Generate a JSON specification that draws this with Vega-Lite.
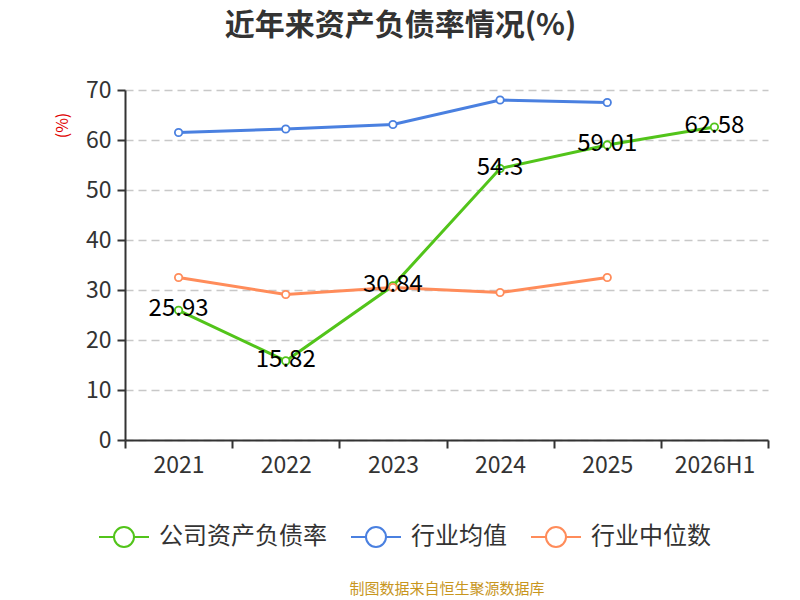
{
  "$schema": "https://vega.github.io/schema/vega-lite/v6.json",
  "width": 643,
  "height": 350,
  "autosize": {"type": "none"},
  "padding": {"left": 125, "top": 90, "right": 32, "bottom": 160},
  "background": "white",
  "title": {
    "text": "近年来资产负债率情况(%)",
    "fontSize": 30,
    "fontWeight": "bold",
    "color": "#333333",
    "font": "Noto Sans CJK SC",
    "anchor": "middle",
    "dx": -46,
    "offset": 38
  },
  "config": {
    "font": "Noto Sans CJK SC",
    "view": {"stroke": null}
  },
  "data": {
    "values": [
      {"year": "2021", "series": "公司资产负债率", "value": 25.93},
      {"year": "2022", "series": "公司资产负债率", "value": 15.82},
      {"year": "2023", "series": "公司资产负债率", "value": 30.84},
      {"year": "2024", "series": "公司资产负债率", "value": 54.3},
      {"year": "2025", "series": "公司资产负债率", "value": 59.01},
      {"year": "2026H1", "series": "公司资产负债率", "value": 62.58},
      {"year": "2021", "series": "行业均值", "value": 61.5},
      {"year": "2022", "series": "行业均值", "value": 62.2},
      {"year": "2023", "series": "行业均值", "value": 63.1},
      {"year": "2024", "series": "行业均值", "value": 68.0},
      {"year": "2025", "series": "行业均值", "value": 67.5},
      {"year": "2021", "series": "行业中位数", "value": 32.5},
      {"year": "2022", "series": "行业中位数", "value": 29.1},
      {"year": "2023", "series": "行业中位数", "value": 30.5},
      {"year": "2024", "series": "行业中位数", "value": 29.5},
      {"year": "2025", "series": "行业中位数", "value": 32.5}
    ]
  },
  "encoding": {
    "x": {
      "field": "year",
      "type": "ordinal",
      "bandPosition": 0.5,
      "scale": {"type": "band", "paddingInner": 0, "paddingOuter": 0},
      "axis": {
        "title": "制图数据来自恒生聚源数据库",
        "titleColor": "#c8961e",
        "titleFontSize": 15,
        "titleFontWeight": "normal",
        "titlePadding": 104,
        "labelAngle": 0,
        "labelFontSize": 23,
        "labelColor": "#333333",
        "labelPadding": 6,
        "tickBand": "extent",
        "tickSize": 8,
        "tickWidth": 2,
        "tickColor": "#333333",
        "domainColor": "#333333",
        "domainWidth": 2,
        "grid": false
      }
    },
    "y": {
      "field": "value",
      "type": "quantitative",
      "scale": {"domain": [0, 70]},
      "axis": {
        "values": [0, 10, 20, 30, 40, 50, 60, 70],
        "title": "(%)",
        "titleColor": "#e00000",
        "titleFontSize": 16,
        "titleFontWeight": "normal",
        "titleAngle": -90,
        "titleX": -63,
        "titleY": 35,
        "titleAlign": "center",
        "titleBaseline": "middle",
        "labelFontSize": 23,
        "labelColor": "#333333",
        "labelPadding": 6,
        "tickSize": 8,
        "tickWidth": 2,
        "tickColor": "#333333",
        "domainColor": "#333333",
        "domainWidth": 2,
        "grid": true,
        "gridColor": "#c8c8c8",
        "gridDash": [8, 5],
        "gridWidth": 1.5
      }
    },
    "color": {
      "field": "series",
      "type": "nominal",
      "scale": {
        "domain": ["公司资产负债率", "行业均值", "行业中位数"],
        "range": ["#52c41a", "#4a80e0", "#ff8c5a"]
      },
      "legend": {
        "title": null,
        "orient": "none",
        "direction": "horizontal",
        "legendX": -27,
        "legendY": 421,
        "symbolType": "M-1,0L-0.4,0M0.4,0L1,0M0.4,0A0.4,0.4 0 1 1 -0.4,0A0.4,0.4 0 1 1 0.4,0",
        "symbolSize": 2500,
        "symbolStrokeWidth": 2,
        "symbolFillColor": "white",
        "labelFontSize": 24,
        "labelLimit": 400,
        "labelColor": "#333333",
        "labelOffset": 9,
        "columnPadding": 20
      }
    }
  },
  "layer": [
    {
      "mark": {
        "type": "line",
        "strokeWidth": 3,
        "point": {"filled": false, "fill": "white", "fillOpacity": 1, "size": 55, "strokeWidth": 1.8}
      }
    },
    {
      "transform": [{"filter": "datum.series === '公司资产负债率'"}],
      "mark": {"type": "text", "fontSize": 24, "align": "center", "baseline": "middle", "dy": -1},
      "encoding": {
        "text": {"field": "value", "type": "quantitative"},
        "color": {"value": "black"}
      }
    }
  ]
}
